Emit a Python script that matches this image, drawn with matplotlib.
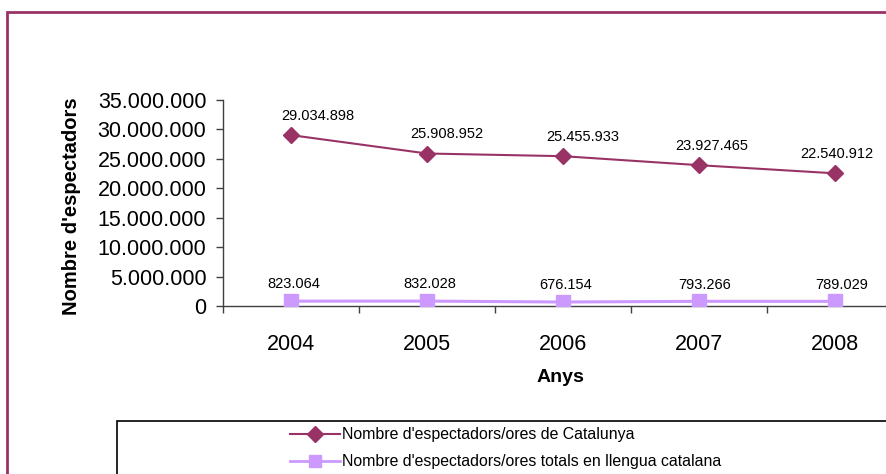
import matplotlib
matplotlib.use("Agg")
import matplotlib.pyplot as plt
from matplotlib.patches import Rectangle
from matplotlib.lines import Line2D

years = ["2004", "2005", "2006", "2007", "2008"]
catalunya = [29034898, 25908952, 25455933, 23927465, 22540912]
catalana = [823064, 832028, 676154, 793266, 789029]
catalunya_labels = ["29.034.898", "25.908.952", "25.455.933", "23.927.465", "22.540.912"]
catalana_labels = ["823.064", "832.028", "676.154", "793.266", "789.029"]
yticks = [0, 5000000, 10000000, 15000000, 20000000, 25000000, 30000000, 35000000]
ytick_labels = ["0", "5.000.000", "10.000.000", "15.000.000", "20.000.000",
                "25.000.000", "30.000.000", "35.000.000"]
series_names = ["Nombre d'espectadors/ores de Catalunya",
                "Nombre d'espectadors/ores totals en llengua catalana"]

plt.rcParams['font.family'] = ['Liberation Sans', 'DejaVu Sans']

W, H = 887, 474
fig = plt.figure(figsize=(W / 100, H / 100), dpi=100)
fig.patch.set_facecolor('white')

maroon = '#993366'
lav = '#CC99FF'

# axes: left 223px, zero at y=306, top at y=100, right beyond edge (903)
ax = fig.add_axes([223 / W, (H - 306) / H, (903 - 223) / W, 206 / H])
ax.set_facecolor('none')
x = list(range(len(years)))
ax.plot(x, catalunya, color=maroon, lw=1.5, marker='D', ms=8.5,
        markerfacecolor=maroon, markeredgecolor=maroon, zorder=3)
ax.plot(x, catalana, color=lav, lw=2.2, marker='s', ms=9.5,
        markerfacecolor=lav, markeredgecolor=lav, zorder=3)

ax.set_xlim(-0.5, 4.5)
ax.set_ylim(0, 35000000)
ax.set_yticks(yticks)
ax.set_yticklabels(ytick_labels, fontsize=15.5)
ax.set_xticks(x)
ax.set_xticklabels(years, fontsize=15.5)
ax.set_xticks([i - 0.5 for i in range(len(years) + 1)], minor=True)
ax.tick_params(axis='x', which='major', length=0, pad=20)
ax.tick_params(axis='x', which='minor', length=5, width=1, color='#404040', direction='out')
ax.tick_params(axis='y', which='major', length=5, width=1, color='#404040', pad=7)
for s in ['top', 'right']:
    ax.spines[s].set_visible(False)
for s in ['left', 'bottom']:
    ax.spines[s].set_color('#404040')
    ax.spines[s].set_linewidth(1)

off1 = [19, 14, 14, 9, 1]
for i, (v, lab) in enumerate(zip(catalunya, catalunya_labels)):
    ax.annotate(lab, (i, v), xytext=(off1[i], 14), textcoords='offset points',
                ha='center', va='center', fontsize=10.5, color='#000000')
off2 = [2, 2, 2, 4, 5]
for i, (v, lab) in enumerate(zip(catalana, catalana_labels)):
    ax.annotate(lab, (i, v), xytext=(off2[i], 12), textcoords='offset points',
                ha='center', va='center', fontsize=10.5, color='#000000')

fig.text(72 / W, 1 - 206 / H, "Nombre d'espectadors", rotation=90, fontsize=14.5,
         fontweight='bold', ha='center', va='center')
fig.text(560 / W, 1 - 377 / H, "Anys", fontsize=14, fontweight='bold',
         ha='center', va='center')

# outer border
fig.patches.append(Rectangle((7 / W, -0.1), 2, (H - 12) / H + 0.1,
                             transform=fig.transFigure, fill=False,
                             edgecolor=maroon, lw=2, zorder=0))
# legend box
fig.patches.append(Rectangle((117 / W, -0.1), 2, (H - 421) / H + 0.1,
                             transform=fig.transFigure, fill=False,
                             edgecolor='#000000', lw=1.2, zorder=0))

handles = [Line2D([], [], color=maroon, lw=1.5, marker='D', ms=8, markerfacecolor=maroon,
                  markeredgecolor=maroon),
           Line2D([], [], color=lav, lw=2, marker='s', ms=9, markerfacecolor=lav,
                  markeredgecolor=lav)]
lfont = {'family': 'Liberation Sans', 'size': 11.4}
fs_px = lfont['size'] * 100 / 72
leg = fig.legend(handles, series_names, loc='upper left', frameon=False,
                 bbox_to_anchor=(290 / W, 1 - (437 - fs_px * 0.6) / H),
                 prop=lfont, handlelength=50 / fs_px, handletextpad=2 / fs_px,
                 borderpad=0, borderaxespad=0, labelspacing=(27.5 - fs_px) / fs_px,
                 numpoints=1)

fig.savefig('out.png', dpi=100, facecolor='white')
